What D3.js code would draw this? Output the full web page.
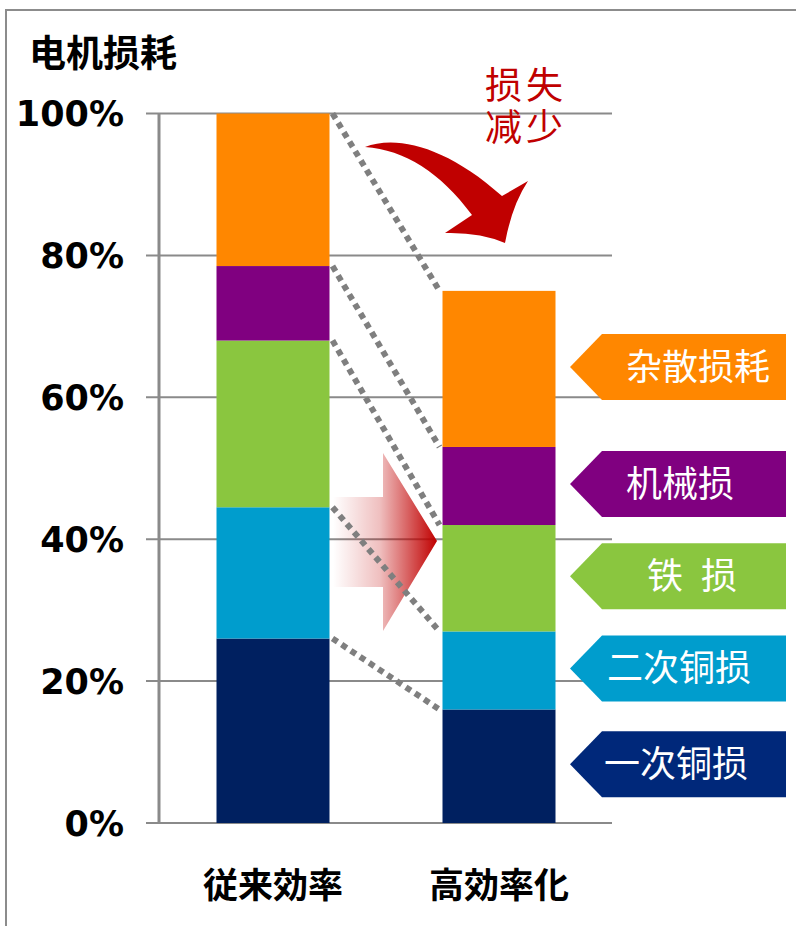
<!DOCTYPE html>
<html><head><meta charset="utf-8">
<script src="https://cdn.jsdelivr.net/npm/d3@7/dist/d3.min.js"></script>
<style>
html,body{margin:0;padding:0;background:#fff;}
svg{display:block;}
</style></head>
<body>
<svg id="chart" width="796" height="926"></svg>
<script>
// ---- data ----
const categories = ["従来効率", "高効率化"];
const seriesNames = ["一次铜损", "二次铜损", "铁 损", "机械损", "杂散损耗"];
const conventional = [26, 18.5, 23.5, 10.5, 21.5];
const highEff = [16, 11, 15, 11, 22];
const yTicks = [0, 20, 40, 60, 80, 100];
const yTickLabels = ["0%", "20%", "40%", "60%", "80%", "100%"];
const titleText = "电机损耗";
const noteLines = ["损失", "减少"];

const barColors = ["#002060", "#009DCD", "#8AC63F", "#800080", "#FF8700"];
const legendColors = ["#00287A", "#009DCD", "#8AC63F", "#800080", "#FF8700"];

const svg = d3.select("#chart");
const cjk = "'Noto Sans CJK SC','Noto Sans CJK JP',sans-serif";

// frame
svg.append("path").attr("d", "M6,926 L6,10 L796,10")
  .attr("fill", "none").attr("stroke", "#8c8c8c").attr("stroke-width", 2);

const y = d3.scaleLinear().domain([0, 100]).range([823, 113.5]);
const x = d3.scaleBand().domain(categories).range([160, 612])
  .paddingInner(0.5).paddingOuter(0.25);

// gridlines
svg.append("g").selectAll("line").data(yTicks).join("line")
  .attr("x1", 146).attr("x2", 612)
  .attr("y1", d => y(d)).attr("y2", d => y(d))
  .attr("stroke", "#8a8a8a").attr("stroke-width", 2);

// y axis line
svg.append("line").attr("x1", 159).attr("x2", 159)
  .attr("y1", y(100)).attr("y2", y(0))
  .attr("stroke", "#8a8a8a").attr("stroke-width", 3);

// y tick labels
svg.append("g").selectAll("text").data(yTicks).join("text")
  .attr("x", 124).attr("y", d => y(d))
  .attr("dy", "0.36em")
  .attr("text-anchor", "end")
  .attr("font-family", "'DejaVu Sans',Verdana,sans-serif")
  .attr("font-weight", "bold").attr("font-size", 35)
  .attr("fill", "#000")
  .text((d, i) => yTickLabels[i]);

// stack data
function stackOf(vals) {
  let c = 0;
  return vals.map((v, i) => { const s = { i, y0: c, y1: c + v }; c += v; return s; });
}
const stacks = [stackOf(conventional), stackOf(highEff)];

stacks.forEach((st, k) => {
  svg.append("g").selectAll("rect").data(st).join("rect")
    .attr("x", x(categories[k])).attr("width", x.bandwidth())
    .attr("y", d => y(d.y1)).attr("height", d => y(d.y0) - y(d.y1))
    .attr("fill", d => barColors[d.i]);
});

// x labels
svg.append("g").selectAll("text").data(categories).join("text")
  .attr("x", d => x(d) + x.bandwidth() / 2).attr("y", 882)
  .attr("dominant-baseline", "central")
  .attr("text-anchor", "middle")
  .attr("font-family", "'Noto Sans CJK JP','Noto Sans CJK SC',sans-serif")
  .attr("font-weight", "bold").attr("font-size", 35)
  .attr("fill", "#000")
  .text(d => d);

// title
svg.append("text").attr("x", 29).attr("y", 51)
  .attr("dominant-baseline", "central")
  .attr("font-family", cjk).attr("font-weight", "bold").attr("font-size", 37)
  .attr("fill", "#000").text(titleText);

// gradient block arrow
const defs = svg.append("defs");
const grad = defs.append("linearGradient").attr("id", "redfade")
  .attr("gradientUnits", "userSpaceOnUse")
  .attr("x1", 333).attr("x2", 437).attr("y1", 0).attr("y2", 0);
grad.append("stop").attr("offset", 0).attr("stop-color", "#c00000").attr("stop-opacity", 0);
grad.append("stop").attr("offset", 0.45).attr("stop-color", "#c00000").attr("stop-opacity", 0.25);
grad.append("stop").attr("offset", 1).attr("stop-color", "#c00000").attr("stop-opacity", 1);
svg.append("path")
  .attr("d", "M333,497 L383,497 L383,453 L437,541 L383,631 L383,587 L333,587 Z")
  .attr("fill", "url(#redfade)");

// dotted connector lines
const x1 = x(categories[0]) + x.bandwidth() + 3;
const x2 = x(categories[1]) - 3;
svg.append("g").selectAll("line").data(d3.range(seriesNames.length)).join("line")
  .attr("x1", x1).attr("x2", x2)
  .attr("y1", i => y(stacks[0][i].y1)).attr("y2", i => y(stacks[1][i].y1))
  .attr("stroke", "#7f7f7f").attr("stroke-width", 6)
  .attr("stroke-dasharray", "6,5");

// curved red arrow
svg.append("path")
  .attr("d", "M365,147 C395,135 445,145 502,196 L528,181 Q512,205 505,243 Q480,232 445,233 L472,215 C440,172 405,150 365,147 Z")
  .attr("fill", "#c00000");

// note text (two lines, tight leading)
svg.append("g").selectAll("text").data(noteLines).join("text")
  .attr("x", 485).attr("y", (d, i) => 86 + i * 42)
  .attr("dominant-baseline", "central")
  .attr("font-family", "'Liberation Sans','Noto Sans CJK SC',sans-serif")
  .attr("font-size", 37)
  .attr("letter-spacing", 4)
  .attr("fill", "#c00000")
  .text(d => d);

// legend tags aligned with high-efficiency bar segments
const tagTip = 570, tagBody = 602, tagRight = 786, tagHalf = 33;
const textX = [605, 608, 648, 627, 627];
const leg = svg.append("g").selectAll("g").data(stacks[1]).join("g")
  .attr("transform", d => `translate(0,${(y(d.y0) + y(d.y1)) / 2 - 2})`);
leg.append("path")
  .attr("d", `M${tagTip},0 L${tagBody},${-tagHalf} L${tagRight},${-tagHalf} L${tagRight},${tagHalf} L${tagBody},${tagHalf} Z`)
  .attr("fill", d => legendColors[d.i]);
leg.append("text")
  .attr("x", d => textX[d.i] - 1).attr("y", -3)
  .attr("dominant-baseline", "central")
  .attr("font-family", cjk).attr("font-size", 36)
  .attr("fill", "#fff")
  .style("white-space", "pre")
  .attr("word-spacing", d => d.i === 2 ? 10 : 0)
  .text(d => seriesNames[d.i]);
</script>
</body></html>
